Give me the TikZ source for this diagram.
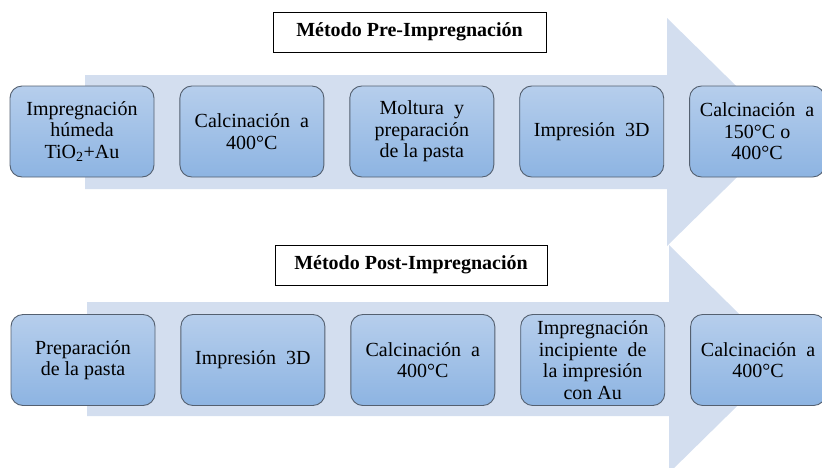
\documentclass[tikz,border=0pt]{standalone}
\usepackage{fontspec}
\setmainfont{Liberation Serif}
\usetikzlibrary{positioning}

\definecolor{arrowblue}{RGB}{211,222,239}
\definecolor{boxtop}{RGB}{182,206,236}
\definecolor{boxbottom}{RGB}{141,180,226}
\definecolor{boxline}{RGB}{84,96,112}

\tikzset{
  stepbox/.style={draw=boxline, line width=0.9pt, rounded corners=12pt,
    top color=boxtop, bottom color=boxbottom, minimum width=144pt,
    minimum height=91pt, inner sep=2pt, align=center,
    font=\fontsize{20}{21.5}\selectfont},
  titlebox/.style={draw=black, line width=1pt, fill=white,
    minimum width=273pt, minimum height=40pt,
    font=\fontsize{20}{22}\selectfont\bfseries},
  bigarrow/.style={fill=arrowblue}
}

\begin{document}
\begin{tikzpicture}[x=1pt, y=-1pt]
  \useasboundingbox (0,0) rectangle (822,467);
  \clip (0,0) rectangle (822,467);

  % Pre-Impregnacion
  \fill[bigarrow] (85,75) -- (667,75) -- (667,18) -- (783,132)
    -- (667,246) -- (667,189) -- (85,189) -- cycle;
  \node[titlebox] (pretitle) at (409.5,32) {Método Pre-Impregnación};
  \node[stepbox] (pre1) at (82,131.5) {Impregnación\\húmeda\\TiO\textsubscript{2}+Au};
  \node[stepbox, right=25pt of pre1] (pre2) {Calcinación\ \ a\\400°C};
  \node[stepbox, right=25pt of pre2] (pre3) {Moltura\ \ y\\preparación\\de la pasta};
  \node[stepbox, right=25pt of pre3] (pre4) {Impresión\ \ 3D};
  \node[stepbox, right=25pt of pre4, minimum width=135pt] (pre5) {Calcinación\ \ a\\150°C o\\400°C};

  % Post-Impregnacion
  \fill[bigarrow] (87,302) -- (669,302) -- (669,245) -- (785,359)
    -- (669,473) -- (669,416) -- (87,416) -- cycle;
  \node[titlebox, minimum width=272pt] (posttitle) at (411,265) {Método Post-Impregnación};
  \node[stepbox] (post1) at (83,360) {Preparación\\de la pasta};
  \node[stepbox, right=25pt of post1] (post2) {Impresión\ \ 3D};
  \node[stepbox, right=25pt of post2] (post3) {Calcinación\ \ a\\400°C};
  \node[stepbox, right=25pt of post3] (post4) {Impregnación\\incipiente\ \ de\\la impresión\\con Au};
  \node[stepbox, right=25pt of post4, minimum width=135pt] (post5) {Calcinación\ \ a\\400°C};
\end{tikzpicture}
\end{document}
